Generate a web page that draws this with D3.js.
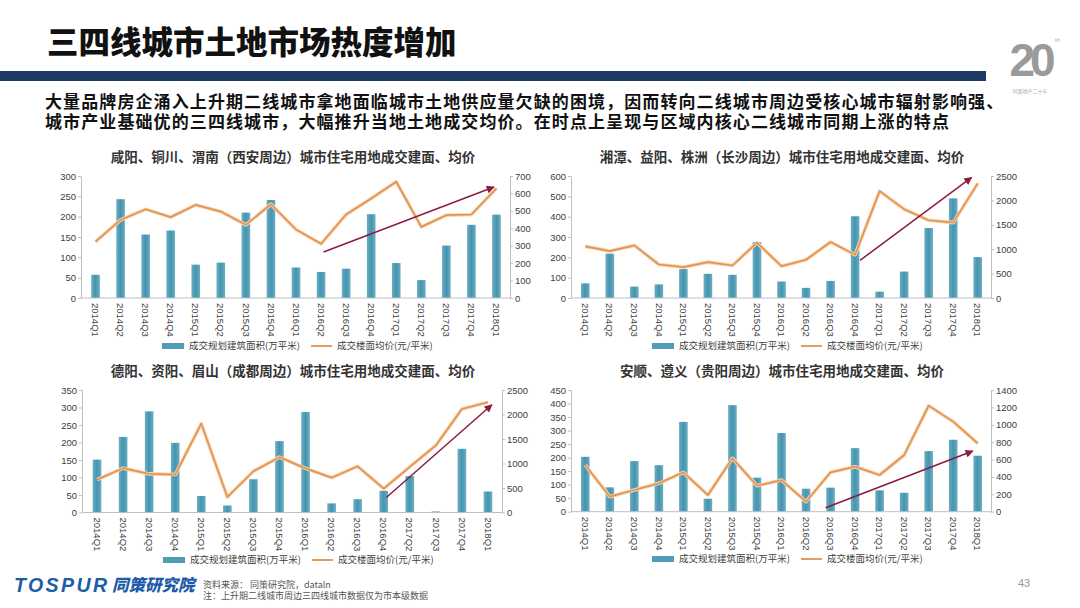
<!DOCTYPE html>
<html><head><meta charset="utf-8">
<script src="https://cdn.jsdelivr.net/npm/d3@7/dist/d3.min.js"></script>
<style>body{margin:0;background:#fff;position:relative;} svg{display:block;}
#intro{position:absolute;left:45px;top:91px;font-family:'Noto Sans CJK SC',sans-serif;font-weight:700;font-size:17px;line-height:19.5px;color:#111;white-space:nowrap;letter-spacing:1.1px;}
</style>
</head><body><svg id="c" width="1080" height="608"></svg>
<script>
// ---------- data ----------
const quartersAll = ["2014Q1","2014Q2","2014Q3","2014Q4","2015Q1","2015Q2","2015Q3","2015Q4","2016Q1","2016Q2","2016Q3","2016Q4","2017Q1","2017Q2","2017Q3","2017Q4","2018Q1"];
const quartersChengdu = ["2014Q1","2014Q2","2014Q3","2014Q4","2015Q1","2015Q2","2015Q3","2015Q4","2016Q1","2016Q2","2016Q3","2016Q4","2017Q2","2017Q3","2017Q4","2018Q1"];

const xianArea  = [57,243,156,166,82,87,210,241,75,64,72,206,86,44,129,180,205];
const xianPrice = [324,448,509,464,534,496,420,538,393,311,479,571,667,408,475,479,629];

const changshaArea  = [72,218,56,67,142,119,114,275,81,50,84,402,31,130,344,490,201];
const changshaPrice = [1058,962,1078,687,632,735,666,1133,652,783,1147,886,2191,1820,1593,1545,2349];

const chengduArea  = [151,216,289,199,47,20,95,204,287,26,38,62,104,3,182,60];
const chengduPrice = [671,905,788,774,1815,315,842,1130,900,711,942,488,930,1369,2113,2249];

const guiyangArea  = [203,90,187,172,332,48,394,126,291,85,89,235,79,70,224,266,207];
const guiyangPrice = [537,173,250,326,453,192,614,299,364,115,453,518,422,652,1220,1036,786];

const leftTicksXian = [0,50,100,150,200,250,300];
const rightTicksXian = [0,100,200,300,400,500,600,700];
const leftTicksChangsha = [0,100,200,300,400,500,600];
const rightTicksChangsha = [0,500,1000,1500,2000,2500];
const leftTicksChengdu = [0,50,100,150,200,250,300,350];
const rightTicksChengdu = [0,500,1000,1500,2000,2500];
const leftTicksGuiyang = [0,50,100,150,200,250,300,350,400,450];
const rightTicksGuiyang = [0,200,400,600,800,1000,1200,1400];

// trend arrows: [category index, right-axis value]
const arrowXian = [[9.1,264],[15.9,637]];
const arrowChangsha = [[11.2,770],[15.75,2470]];
const arrowChengdu = [[11.1,305],[15.15,2200]];
const arrowGuiyang = [[9.8,46],[15.8,698]];

const legendArea = "成交规划建筑面积(万平米)";
const legendPrice = "成交楼面均价(元/平米)";

const introLines = [
  "大量品牌房企涌入上升期二线城市拿地面临城市土地供应量欠缺的困境，因而转向二线城市周边受核心城市辐射影响强、",
  "城市产业基础优的三四线城市，大幅推升当地土地成交均价。在时点上呈现与区域内核心二线城市同期上涨的特点"
];

// ---------- drawing ----------
const svg = d3.select("#c");
const CJK = "'Noto Sans CJK SC','Noto Sans',sans-serif";
const NUM = "'Liberation Sans',Arial,sans-serif";

const defs = svg.append("defs");
defs.append("marker").attr("id","arr").attr("viewBox","0 0 10 10")
  .attr("refX",9).attr("refY",5).attr("markerUnits","userSpaceOnUse")
  .attr("markerWidth",9).attr("markerHeight",8).attr("orient","auto")
  .append("path").attr("d","M0,0 L10,5 L0,10 z").attr("fill","#8c1b3e");
const grad = defs.append("linearGradient").attr("id","barg").attr("x1","0").attr("x2","1");
grad.append("stop").attr("offset","0").attr("stop-color","#6aaec4");
grad.append("stop").attr("offset","0.5").attr("stop-color","#4594ae");
grad.append("stop").attr("offset","1").attr("stop-color","#6aaec4");

// header
svg.append("text").attr("x",47).attr("y",54).attr("font-family",CJK).attr("font-weight",900)
  .attr("font-size",31.5).attr("fill","#111").text("三四线城市土地市场热度增加");
svg.append("rect").attr("x",0).attr("y",71).attr("width",986).attr("height",10).attr("fill","#1f3966");
const intro = d3.select("body").append("div").attr("id","intro");
intro.html(introLines.join("<br>"));

// logo top right
svg.append("text").attr("x",1030).attr("y",76).attr("text-anchor","middle").attr("font-family",NUM)
  .attr("font-weight","bold").attr("font-size",46).attr("fill","#9a9a9a").attr("letter-spacing",-5).text("20");
svg.append("text").attr("x",1055).attr("y",42).attr("font-family",NUM).attr("font-size",6).attr("fill","#aaa").text("th");
svg.append("text").attr("x",1030).attr("y",93).attr("text-anchor","middle").attr("font-family",CJK)
  .attr("font-size",5).attr("fill","#aaa").text("同策地产二十年");

function drawChart(o){
  const g = svg.append("g");
  const x = d3.scaleBand().domain(o.cats).range([o.xL+2,o.xR-1]);
  const yL = d3.scaleLinear().domain([0,d3.max(o.leftTicks)]).range([o.yB,o.yT]);
  const yR = d3.scaleLinear().domain([0,d3.max(o.rightTicks)]).range([o.yB,o.yT]);
  const bw = 8.6;
  // title
  g.append("text").attr("x",o.titleX).attr("y",o.titleY).attr("text-anchor","middle")
    .attr("font-family",CJK).attr("font-weight",700).attr("font-size",13.5).attr("fill","#333").text(o.title);
  // bars
  g.selectAll("rect.bar").data(o.area).enter().append("rect").attr("class","bar")
    .attr("x",(d,i)=>x(o.cats[i])+x.bandwidth()/2-bw/2).attr("width",bw)
    .attr("y",d=>yL(d)).attr("height",d=>o.yB-yL(d)).attr("fill","url(#barg)");
  // line
  const line = d3.line().x((d,i)=>x(o.cats[i])+x.bandwidth()/2).y(d=>yR(d));
  g.append("path").attr("d",line(o.price)).attr("fill","none").attr("stroke","#f6d3b2")
    .attr("stroke-width",3.6).attr("stroke-linejoin","round");
  g.append("path").attr("d",line(o.price)).attr("fill","none").attr("stroke","#e3944f")
    .attr("stroke-width",1.7).attr("stroke-linejoin","round");
  // axes
  const fmt = d3.format("d");
  const axL = g.append("g").attr("transform",`translate(${o.xL},0)`)
    .call(d3.axisLeft(yL).tickValues(o.leftTicks).tickFormat(fmt).tickSize(3).tickSizeOuter(0).tickPadding(2));
  const axR = g.append("g").attr("transform",`translate(${o.xR},0)`)
    .call(d3.axisRight(yR).tickValues(o.rightTicks).tickFormat(fmt).tickSize(3).tickSizeOuter(0).tickPadding(2));
  [axL,axR].forEach(a=>{
    a.select(".domain").attr("stroke","#bfbfbf");
    a.selectAll(".tick line").attr("stroke","#bfbfbf");
    a.selectAll("text").attr("font-family",NUM).attr("font-size",9.5).attr("fill","#404040");
  });
  const axB = g.append("g").attr("transform",`translate(0,${o.yB})`)
    .call(d3.axisBottom(x).tickSize(0));
  axB.select(".domain").remove();
  axB.selectAll("text").attr("transform","rotate(90)").attr("x",5).attr("y",0).attr("dy","0.35em")
    .style("text-anchor","start").attr("font-family",NUM).attr("font-size",9.5).attr("fill","#404040");
  g.append("line").attr("x1",o.xL).attr("x2",o.xR).attr("y1",o.yB).attr("y2",o.yB).attr("stroke","#bfbfbf");
  // arrow
  const ax = d=>x(o.cats[0])+x.bandwidth()/2 + d[0]*x.step();
  g.append("line").attr("x1",ax(o.arrow[0])).attr("y1",yR(o.arrow[0][1]))
    .attr("x2",ax(o.arrow[1])).attr("y2",yR(o.arrow[1][1]))
    .attr("stroke","#8c1b3e").attr("stroke-width",1.5).attr("marker-end","url(#arr)");
  // legend
  const lx = o.xL+81, ly = o.legY;
  g.append("rect").attr("x",lx).attr("y",ly-3).attr("width",22).attr("height",6).attr("fill","#4f9db7");
  g.append("text").attr("x",lx+27).attr("y",ly).attr("dy","0.35em").attr("font-family",CJK)
    .attr("font-size",9.5).attr("fill","#404040").text(legendArea);
  g.append("line").attr("x1",lx+149).attr("x2",lx+170).attr("y1",ly).attr("y2",ly)
    .attr("stroke","#e3944f").attr("stroke-width",1.8);
  g.append("text").attr("x",lx+175).attr("y",ly).attr("dy","0.35em").attr("font-family",CJK)
    .attr("font-size",9.5).attr("fill","#404040").text(legendPrice);
}

drawChart({cats:quartersAll, area:xianArea, price:xianPrice, leftTicks:leftTicksXian, rightTicks:rightTicksXian,
  xL:81, xR:510, yT:176, yB:298, title:"咸阳、铜川、渭南（西安周边）城市住宅用地成交建面、均价",
  titleX:293, titleY:162, legY:346, arrow:arrowXian});
drawChart({cats:quartersAll, area:changshaArea, price:changshaPrice, leftTicks:leftTicksChangsha, rightTicks:rightTicksChangsha,
  xL:571, xR:991, yT:176, yB:298, title:"湘潭、益阳、株洲（长沙周边）城市住宅用地成交建面、均价",
  titleX:782, titleY:162, legY:346, arrow:arrowChangsha});
drawChart({cats:quartersChengdu, area:chengduArea, price:chengduPrice, leftTicks:leftTicksChengdu, rightTicks:rightTicksChengdu,
  xL:82, xR:502, yT:390, yB:512.5, title:"德阳、资阳、眉山（成都周边）城市住宅用地成交建面、均价",
  titleX:293, titleY:376, legY:560, arrow:arrowChengdu});
drawChart({cats:quartersAll, area:guiyangArea, price:guiyangPrice, leftTicks:leftTicksGuiyang, rightTicks:rightTicksGuiyang,
  xL:571, xR:991, yT:390, yB:511.7, title:"安顺、遵义（贵阳周边）城市住宅用地成交建面、均价",
  titleX:782, titleY:376, legY:559, arrow:arrowGuiyang});

// footer
svg.append("text").attr("x",14).attr("y",592).attr("font-family",NUM).attr("font-weight","bold")
  .attr("font-style","italic").attr("font-size",19.5).attr("fill","#1d5ca8")
  .attr("textLength",93).attr("lengthAdjust","spacing").text("TOSPUR");
svg.append("text").attr("x",112).attr("y",591).attr("font-family",CJK).attr("font-weight",900)
  .attr("font-style","italic").attr("font-size",16.5).attr("fill","#1d5ca8").text("同策研究院");
svg.append("text").attr("x",203).attr("y",588).attr("font-family",CJK).attr("font-size",9)
  .attr("fill","#555").text("资料来源： 同策研究院，dataln");
svg.append("text").attr("x",203).attr("y",599).attr("font-family",CJK).attr("font-size",9)
  .attr("fill","#555").text("注：上升期二线城市周边三四线城市数据仅为市本级数据");
svg.append("text").attr("x",1018).attr("y",587).attr("font-family",NUM).attr("font-size",11)
  .attr("fill","#999").text("43");
</script></body></html>
